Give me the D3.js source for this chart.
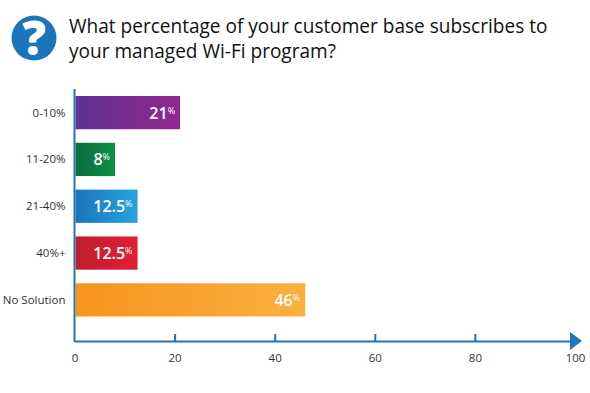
<!DOCTYPE html>
<html>
<head>
<meta charset="utf-8">
<script src="https://cdn.jsdelivr.net/npm/d3@7"></script>
<style>
  html, body { margin: 0; padding: 0; background: #fff; }
  svg { display: block; }
  text { font-family: "Open Sans", sans-serif; }
</style>
</head>
<body>
<script>
const titleLines = ["What percentage of your customer base subscribes to", "your managed Wi-Fi program?"];
const categories = ["0-10%", "11-20%", "21-40%", "40%+", "No Solution"];
const values = [21, 8, 12.5, 12.5, 46];
const gradientStart = ["#5e3292", "#0b6b3c", "#1b75bc", "#be1e2d", "#f7941e"];
const gradientEnd = ["#92278f", "#0f9048", "#27a3de", "#e21f35", "#fbb040"];
const xTicks = [0, 20, 40, 60, 80, 100];

const w = 590;
const h = 393;
const axisColor = "#1f75b5";

const svg = d3.select("body").append("svg").attr("width", w).attr("height", h);

const xScale = d3.scaleLinear().domain([0, 100]).range([74.5, 575]);
const yScale = d3.scaleBand().domain(categories).range([96, 316.5]).paddingInner(0.29);

const defs = svg.append("defs");
categories.forEach((c, i) => {
  const g = defs.append("linearGradient").attr("id", "bar" + i);
  g.append("stop").attr("offset", 0).attr("stop-color", gradientStart[i]);
  g.append("stop").attr("offset", 1).attr("stop-color", gradientEnd[i]);
});

// question icon
svg.append("circle").attr("cx", 34).attr("cy", 38).attr("r", 22.5).attr("fill", "#1b75bb");
svg.append("text").attr("x", 34).attr("y", 55).attr("text-anchor", "middle")
  .attr("font-size", 47).attr("font-weight", 800).attr("fill", "#fff").text("?");

// title
svg.append("g").selectAll("text").data(titleLines).enter().append("text")
  .attr("x", 69)
  .attr("y", (d, i) => 33 + i * 25)
  .attr("font-size", 19.05)
  .attr("font-weight", 500)
  .attr("fill", "#111")
  .text(d => d);

// bars
svg.selectAll("rect.bar").data(values).enter().append("rect")
  .attr("class", "bar")
  .attr("x", xScale(0) + 1)
  .attr("y", (d, i) => yScale(categories[i]))
  .attr("width", d => xScale(d) - xScale(0) - 0.5)
  .attr("height", yScale.bandwidth())
  .attr("fill", (d, i) => "url(#bar" + i + ")");

// value labels, right aligned inside the bar
const labels = svg.append("g").selectAll("text").data(values).enter().append("text")
  .attr("x", d => xScale(d) - 4.5)
  .attr("y", (d, i) => yScale(categories[i]) + yScale.bandwidth() / 2 + 6)
  .attr("text-anchor", "end")
  .attr("fill", "#fff")
  .attr("font-size", 16)
  .attr("font-weight", 600);
labels.append("tspan").text(d => d);
labels.append("tspan").attr("font-size", 9).attr("font-weight", 400).attr("dy", -5).text("%");

// category labels
svg.append("g").selectAll("text").data(categories).enter().append("text")
  .attr("x", 65.5)
  .attr("y", d => yScale(d) + yScale.bandwidth() / 2 + 4)
  .attr("text-anchor", "end")
  .attr("font-size", 11.5)
  .attr("fill", "#333")
  .text(d => d);

// axes
const axisY = 341;
svg.append("line").attr("x1", xScale(0)).attr("x2", xScale(0)).attr("y1", 89).attr("y2", axisY + 1)
  .attr("stroke", axisColor).attr("stroke-width", 2);
const xAxis = d3.axisBottom(xScale).tickValues(xTicks).tickSize(0).tickPadding(13);
const xg = svg.append("g").attr("transform", "translate(0," + axisY + ")").call(xAxis);
xg.select(".domain").attr("stroke", axisColor).attr("stroke-width", 2);
xg.selectAll("text").attr("font-size", 11.5).attr("fill", "#333").style("font-family", '"Open Sans", sans-serif');
xg.selectAll(".tick line")
  .attr("y2", d => (d > 0 && d < 100) ? -7 : 0)
  .attr("stroke", axisColor).attr("stroke-width", 2);
svg.append("path")
  .attr("d", d3.line()([[xScale(100) - 5, axisY - 9], [xScale(100) + 7, axisY], [xScale(100) - 5, axisY + 9]]) + "Z")
  .attr("fill", axisColor);
</script>
</body>
</html>
